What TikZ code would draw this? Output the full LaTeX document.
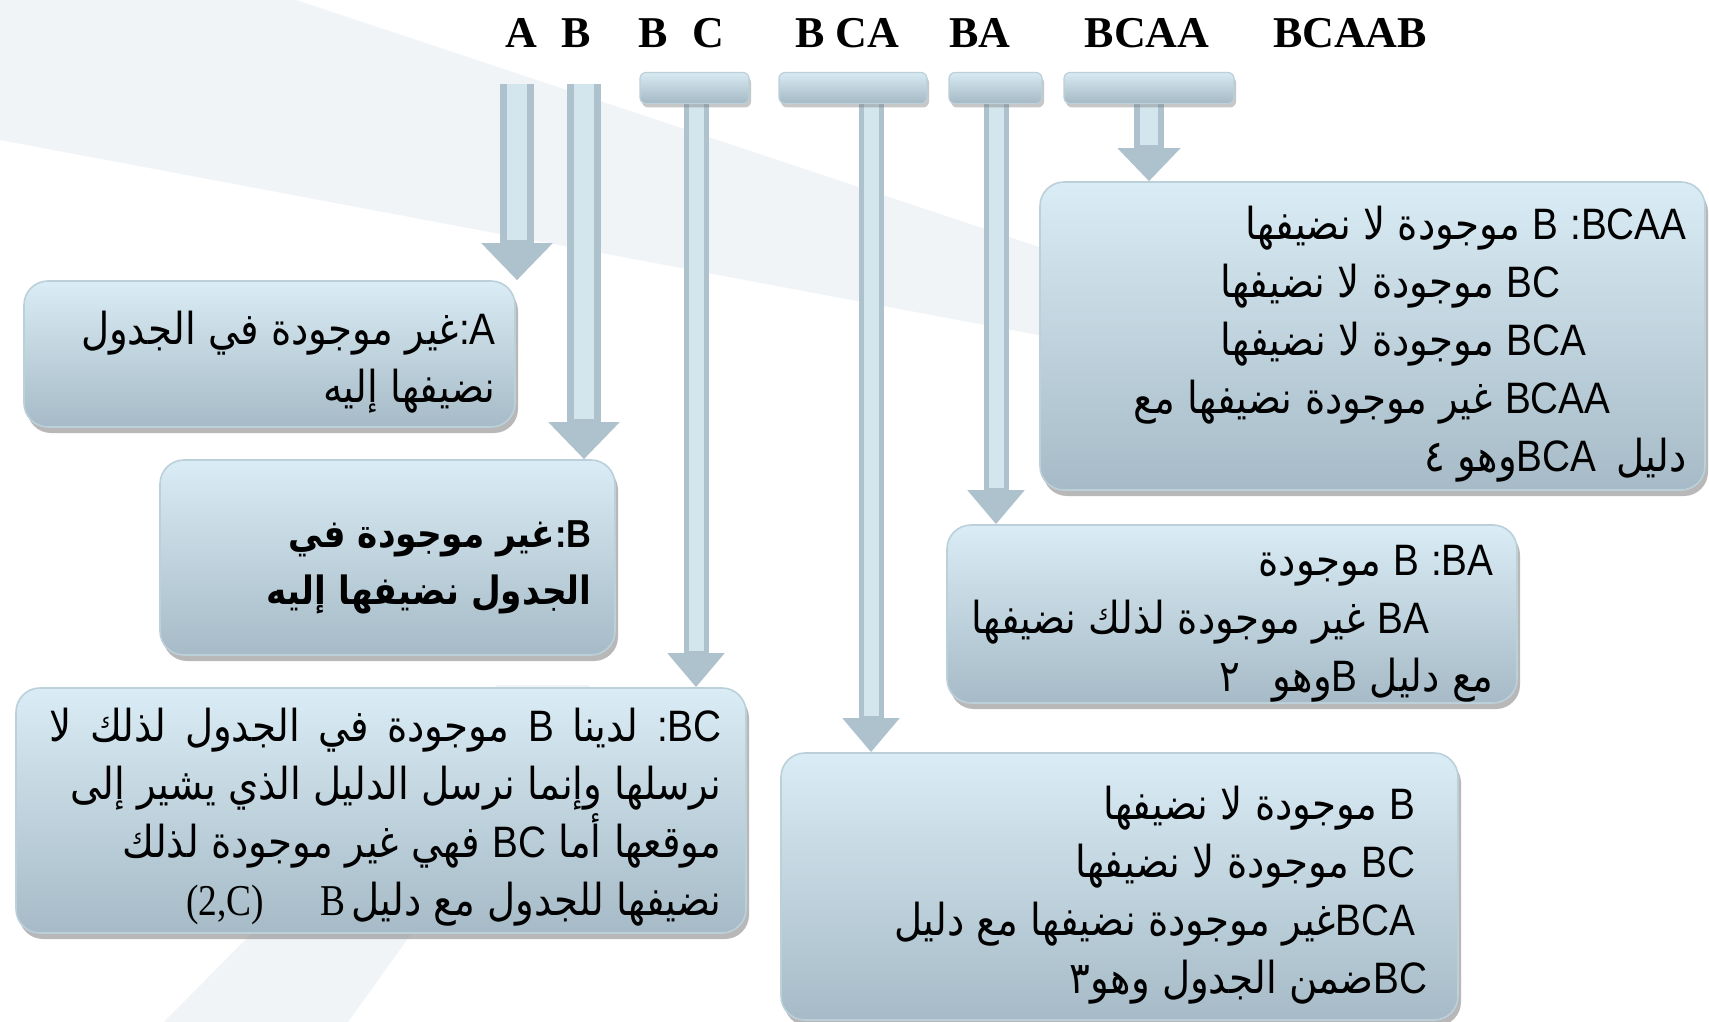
\documentclass[tikz,border=0pt]{standalone}
\usepackage{fontspec}
\usetikzlibrary{shadows,arrows.meta}
\TeXXeTstate=1
\newfontfamily\arf[Script=Arabic,FakeStretch=0.88]{DejaVu Sans}
\newfontfamily\laf[FakeStretch=0.88]{Liberation Sans}
\newfontfamily\srf{Liberation Serif}
\newfontfamily\srfn[FakeStretch=0.85]{Liberation Serif}
\newcommand\lt[1]{{\laf #1}}
\newcommand\sr[1]{{\srfn #1}}
\newcommand\brk{\kern0pt\relax}
\newcommand\rpad[1]{\hbox to #1{}}
\definecolor{boxtop}{HTML}{DAECF5}
\definecolor{boxbot}{HTML}{A6BBC7}
\definecolor{boxedge}{HTML}{BCD0DA}
\definecolor{bartop}{HTML}{D8EAF2}
\definecolor{barbot}{HTML}{A4B9C5}
\definecolor{stemdark}{HTML}{AEC2CD}
\definecolor{stemlight}{HTML}{D3E6EE}
\definecolor{bgband}{HTML}{F1F4F7}
\begin{document}
\begin{tikzpicture}[x=0.5pt,y=-0.5pt,
  tbox/.style={rounded corners=12pt, top color=boxtop, bottom color=boxbot,
    draw=boxedge, line width=0.8pt, inner sep=0pt,
    drop shadow={shadow xshift=1.5pt, shadow yshift=-3pt, opacity=0.5, fill=black!55}},
  tbar/.style={rounded corners=3pt, top color=bartop, bottom color=barbot,
    draw=boxedge, line width=0.6pt, inner sep=0pt, minimum height=15.5pt,
    drop shadow={shadow xshift=1pt, shadow yshift=-2pt, opacity=0.4, fill=black!55}},
  txt/.style={inner sep=0pt, anchor=base east, align=right,
    font=\arf\fontsize{22}{29}\selectfont},
  hdr/.style={inner sep=0pt, anchor=base, font=\srf\bfseries\fontsize{22}{24}\selectfont},
  bigstem/.style={draw=stemdark, line width=17pt, -{Triangle[width=34.5pt,length=18.5pt]}},
  bigstemhl/.style={draw=stemlight, line width=10pt, shorten >=20pt},
  stem/.style={draw=stemdark, line width=12.5pt, -{Triangle[width=27.5pt,length=17pt]}},
  stemhl/.style={draw=stemlight, line width=7.5pt, shorten >=18pt},
  widestem/.style={draw=stemdark, line width=15pt, -{Triangle[width=30.5pt,length=16.5pt]}},
  widestemhl/.style={draw=stemlight, line width=9pt, shorten >=18pt},
]
\fill[white] (0,0) rectangle (1709,1022);
\useasboundingbox (0,0) rectangle (1709,1022);
% faint background
\fill[bgband] (0,0) -- (296,0) -- (1650,450) -- (0,140) -- cycle;
\fill[bgband] (164,1022) -- (497,685) -- (590,685) -- (348,1022) -- cycle;

% header labels
\node[hdr] (h1) at (521,48) {A};
\node[hdr] (h2) at (576,48) {B};
\node[hdr] (h3) at (653,48) {B};
\node[hdr] (h4) at (708,48) {C};
\node[hdr] (h5) at (847,48) {B CA};
\node[hdr] (h6) at (980,48) {BA};
\node[hdr] (h7) at (1147,48) {BCAA};
\node[hdr] (h8) at (1350,48) {BCAAB};

% boxes
\node[tbox, minimum width=245.5pt, minimum height=73pt] (boxA) at (269.5,354) {};
\node[tbox, minimum width=227.5pt, minimum height=97.5pt] (boxB) at (387.5,557.5) {};
\node[tbox, minimum width=365pt, minimum height=122.5pt] (boxBC) at (381,810.5) {};
\node[tbox, minimum width=338.5pt, minimum height=133.5pt] (boxBCA) at (1119.5,886.5) {};
\node[tbox, minimum width=285pt, minimum height=89pt] (boxBA) at (1232,614) {};
\node[tbox, minimum width=332.5pt, minimum height=154pt] (boxBCAA) at (1372.5,336) {};

% stems start points
\coordinate (cA) at (517,84);
\coordinate (cB) at (584,84);
\coordinate (s1) at (696,100);
\coordinate (s2) at (871,100);
\coordinate (s3) at (996,100);
\coordinate (s4) at (1149,100);

\draw[bigstem] (cA) -- (cA |- boxA.north);
\draw[bigstemhl] (cA) -- (cA |- boxA.north);
\draw[bigstem] (cB) -- (cB |- boxB.north);
\draw[bigstemhl] (cB) -- (cB |- boxB.north);
\draw[stem] (s1) -- (s1 |- boxBC.north);
\draw[stemhl] (s1) -- (s1 |- boxBC.north);
\draw[stem] (s2) -- (s2 |- boxBCA.north);
\draw[stemhl] (s2) -- (s2 |- boxBCA.north);
\draw[stem] (s3) -- (s3 |- boxBA.north);
\draw[stemhl] (s3) -- (s3 |- boxBA.north);
\draw[widestem] (s4) -- (s4 |- boxBCAA.north);
\draw[widestemhl] (s4) -- (s4 |- boxBCAA.north);

% T bars
\node[tbar, minimum width=54.5pt] (bar1) at (694.5,88) {};
\node[tbar, minimum width=74pt] (bar2) at (853,88) {};
\node[tbar, minimum width=46.5pt] (bar3) at (995.5,88) {};
\node[tbar, minimum width=85pt] (bar4) at (1149,88) {};

% texts (anchor = baseline of the last line)
\node[txt] (tA) at (496,402) {\beginR\lt{A}\brk\lt{:}\brk غير موجودة في الجدول\endR\\
\beginR نضيفها إليه\endR};

\node[txt, font=\arf\bfseries\fontsize{19.5}{28.5}\selectfont] (tB) at (592,604) {\beginR\lt{B}\brk\lt{:}\brk غير موجودة في\endR\\
\beginR الجدول نضيفها إليه\endR};

\node[txt] (tBC) at (722,915) {\hbox to 336pt{\beginR\lt{BC}\brk\lt{:} لدينا \lt{B} موجودة في الجدول لذلك لا\endR}\\
\beginR نرسلها وإنما نرسل الدليل الذي يشير إلى\endR\\
\beginR موقعها أما \lt{BC} فهي غير موجودة لذلك\endR\\
\beginR نضيفها للجدول مع دليل\hspace{3pt}\sr{B}\hspace{28pt}\sr{(2,C)}\endR};

\node[txt] (tBCA) at (1428,993) {\beginR\lt{B} موجودة لا نضيفها\endR\rpad{6pt}\\
\beginR\lt{BC} موجودة لا نضيفها\endR\rpad{6pt}\\
\beginR\lt{BCA}غير موجودة نضيفها مع دليل\endR\rpad{6pt}\\
\beginR\lt{BC}ضمن الجدول وهو٣\endR};

\node[txt] (tBA) at (1494,691) {\beginR\lt{BA}\brk\lt{:} \lt{B} موجودة\endR\\
\beginR\lt{BA} غير موجودة لذلك نضيفها\endR\rpad{32pt}\\
\beginR مع دليل \lt{B}وهو\hspace{16pt}٢\endR};

\node[txt] (tBCAA) at (1687,471) {\beginR\lt{BCAA}\brk\lt{:} \lt{B} موجودة لا نضيفها\endR\\
\beginR\lt{BC} موجودة لا نضيفها\endR\rpad{63pt}\\
\beginR\lt{BCA} موجودة لا نضيفها\endR\rpad{50pt}\\
\beginR\lt{BCAA} غير موجودة نضيفها مع\endR\rpad{38pt}\\
\beginR دليل\hspace{10pt}\lt{BCA}وهو ٤\endR};
\end{tikzpicture}
\end{document}
